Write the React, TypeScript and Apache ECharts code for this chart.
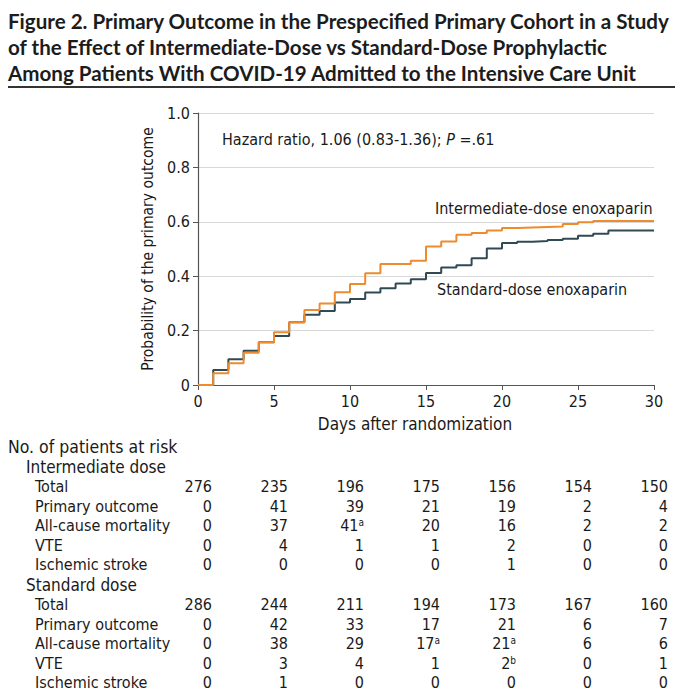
import React, { useEffect, useRef } from "react";
import * as echarts from "echarts";

const days = Array.from({ length: 31 }, (_, i) => i);
const intermediateProb = [0, 0.043, 0.08, 0.119, 0.157, 0.194, 0.231, 0.276, 0.3, 0.341, 0.371, 0.411, 0.445, 0.445, 0.457, 0.509, 0.528, 0.552, 0.559, 0.568, 0.577, 0.579, 0.581, 0.583, 0.592, 0.598, 0.603, 0.603, 0.603, 0.603, 0.603];
const standardProb = [0, 0.055, 0.095, 0.126, 0.157, 0.18, 0.231, 0.258, 0.272, 0.303, 0.316, 0.34, 0.356, 0.373, 0.389, 0.412, 0.432, 0.44, 0.466, 0.502, 0.522, 0.527, 0.529, 0.533, 0.538, 0.549, 0.556, 0.568, 0.568, 0.568, 0.568];

const tableDays = [0, 5, 10, 15, 20, 25, 30];
const rowLabels = ["Total", "Primary outcome", "All-cause mortality", "VTE", "Ischemic stroke"];
const interTotal = ["276", "235", "196", "175", "156", "154", "150"];
const interPrimary = ["0", "41", "39", "21", "19", "2", "4"];
const interMortality = ["0", "37", "41^a", "20", "16", "2", "2"];
const interVTE = ["0", "4", "1", "1", "2", "0", "0"];
const interStroke = ["0", "0", "0", "0", "1", "0", "0"];
const stdTotal = ["286", "244", "211", "194", "173", "167", "160"];
const stdPrimary = ["0", "42", "33", "17", "21", "6", "7"];
const stdMortality = ["0", "38", "29", "17^a", "21^a", "6", "6"];
const stdVTE = ["0", "3", "4", "1", "2^b", "0", "1"];
const stdStroke = ["0", "1", "0", "0", "0", "0", "0"];

const titleLines = [
  "Figure 2. Primary Outcome in the Prespecified Primary Cohort in a Study",
  "of the Effect of Intermediate-Dose vs Standard-Dose Prophylactic",
  "Among Patients With COVID-19 Admitted to the Intensive Care Unit",
];

const ORANGE = "#EE8B2D";
const DARK = "#304A54";
const FONT = "'DejaVu Sans Condensed', 'Noto Sans', sans-serif";
const TITLE_FONT = "Lato, 'Noto Sans', sans-serif";
const TEXT = "#1a1a1a";

export default function App() {
  const ref = useRef<HTMLDivElement>(null);
  useEffect(() => {
    if (!ref.current) return;
    const chart = echarts.init(ref.current, undefined, { renderer: "svg" });
    const option: any = {
      animation: false,
      textStyle: { fontFamily: FONT },
      grid: { left: 198, right: 21, top: 113, bottom: 315, containLabel: false },
      xAxis: {
        type: "value",
        min: 0,
        max: 30,
        interval: 5,
        axisLine: { show: true, lineStyle: { color: "#555", width: 1.2 } },
        axisTick: { show: true, length: 5, lineStyle: { color: "#555" } },
        axisLabel: { color: TEXT, fontSize: 16, margin: 8, fontFamily: FONT },
        splitLine: { show: false },
      },
      yAxis: {
        type: "value",
        min: 0,
        max: 1,
        interval: 0.2,
        axisLine: { show: true, lineStyle: { color: "#555", width: 1.2 } },
        axisTick: { show: true, length: 5, lineStyle: { color: "#555" } },
        axisLabel: {
          color: TEXT,
          fontSize: 16,
          margin: 8,
          fontFamily: FONT,
          formatter: (v: number) => (v === 0 ? "0" : v.toFixed(1)),
        },
        splitLine: { show: true, lineStyle: { color: "#d8d8d8", width: 1 } },
      },
      series: [
        {
          name: "Standard-dose enoxaparin",
          type: "line",
          step: "end",
          symbol: "none",
          lineStyle: { color: DARK, width: 2 },
          data: days.map((d, i) => [d, standardProb[i]]),
        },
        {
          name: "Intermediate-dose enoxaparin",
          type: "line",
          step: "end",
          symbol: "none",
          lineStyle: { color: ORANGE, width: 2 },
          data: days.map((d, i) => [d, intermediateProb[i]]),
        },
      ],
    };
    chart.setOption(option);

    // measure title width to fit the reference's narrow title face
    let titleScale = 0.85;
    try {
      const ctx = document.createElement("canvas").getContext("2d");
      if (ctx) {
        ctx.font = `bold 21px ${TITLE_FONT}`;
        const w = ctx.measureText(titleLines[0]).width;
        if (w > 0) titleScale = 662 / w;
      }
    } catch (e) {}

    const colX = tableDays.map((d) => (chart.convertToPixel({ xAxisIndex: 0 }, d) as number) + 14);
    const g: any[] = [];
    titleLines.forEach((t, i) => {
      g.push({
        type: "text",
        x: 8,
        y: 20 + i * 26,
        scaleX: titleScale,
        style: { text: t, fontSize: 21, fontWeight: "bold", fill: "#1c1c1c", fontFamily: TITLE_FONT, textVerticalAlign: "middle" },
      });
    });
    g.push({ type: "line", shape: { x1: 8, y1: 87, x2: 675, y2: 87 }, style: { stroke: "#333", lineWidth: 2 } });
    g.push({
      type: "text",
      x: 222,
      y: 139,
      style: {
        text: "Hazard ratio, 1.06 (0.83-1.36); {i|P} =.61",
        rich: { i: { fontStyle: "italic", fontSize: 16, fontFamily: FONT, fill: TEXT } },
        fontSize: 16,
        fill: TEXT,
        fontFamily: FONT,
        textVerticalAlign: "middle",
      },
    });
    g.push({
      type: "text",
      x: 435,
      y: 208,
      style: { text: "Intermediate-dose enoxaparin", fontSize: 16, fill: TEXT, fontFamily: FONT, textVerticalAlign: "middle" },
    });
    g.push({
      type: "text",
      x: 437,
      y: 289,
      style: { text: "Standard-dose enoxaparin", fontSize: 16, fill: TEXT, fontFamily: FONT, textVerticalAlign: "middle" },
    });
    g.push({
      type: "text",
      x: 415,
      y: 424,
      style: { text: "Days after randomization", fontSize: 17, fill: TEXT, fontFamily: FONT, textAlign: "center", textVerticalAlign: "middle" },
    });
    g.push({
      type: "text",
      x: 148,
      y: 249,
      rotation: Math.PI / 2,
      style: { text: "Probability of the primary outcome", fontSize: 15.5, fill: TEXT, fontFamily: FONT, textAlign: "center", textVerticalAlign: "middle" },
    });

    const tableText = (text: string, x: number, y: number, align = "left", size = 16) => {
      const m = text.match(/^(.*)\^(.)$/);
      const content = m ? `${m[1]}{s|${m[2]}}` : text;
      g.push({
        type: "text",
        x,
        y,
        style: {
          text: content,
          rich: { s: { fontSize: 10, verticalAlign: "top", fontFamily: FONT, fill: TEXT, padding: [0, 0, 6, 0] } },
          fontSize: size,
          fill: TEXT,
          fontFamily: FONT,
          textAlign: align,
          textVerticalAlign: "middle",
        },
      });
    };
    tableText("No. of patients at risk", 8, 447, "left", 17.5);
    const groups = [
      { name: "Intermediate dose", y: 467, rows: [interTotal, interPrimary, interMortality, interVTE, interStroke] },
      { name: "Standard dose", y: 585, rows: [stdTotal, stdPrimary, stdMortality, stdVTE, stdStroke] },
    ];
    groups.forEach((grp) => {
      tableText(grp.name, 26, grp.y, "left", 17);
      grp.rows.forEach((vals, r) => {
        const y = grp.y + 19.5 * (r + 1);
        tableText(rowLabels[r], 35, y);
        vals.forEach((v, c) => tableText(v, colX[c], y, "right"));
      });
    });
    chart.setOption({ graphic: g });
    return () => chart.dispose();
  }, []);
  return <div ref={ref} style={{ position: "absolute", left: 0, top: 0, width: 675, height: 700 }} />;
}
